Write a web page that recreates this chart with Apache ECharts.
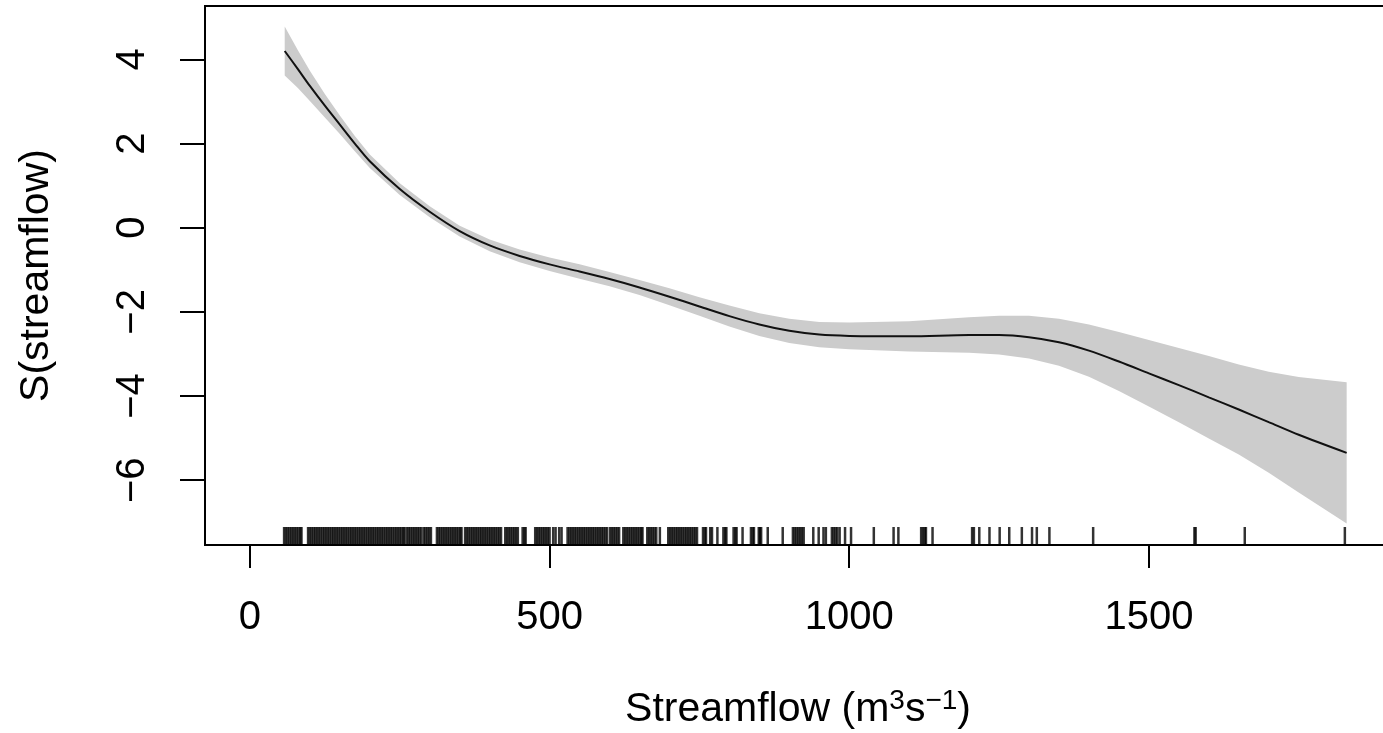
<!DOCTYPE html>
<html>
<head>
<meta charset="utf-8">
<title>S(streamflow)</title>
<script src="https://cdn.jsdelivr.net/npm/echarts@6/dist/echarts.min.js"></script>
<style>
  html, body { margin: 0; padding: 0; background: #fff; }
  #chart { width: 1383px; height: 733px; }
</style>
</head>
<body>
<div id="chart"></div>
<script>
// smooth term: streamflow, fitted value and half width of the band
const flow = [58, 80, 100, 125, 150, 175, 200, 250, 300, 350, 400, 450, 500, 550, 600, 650, 700, 750, 800, 850,
  900, 950, 1000, 1100, 1200, 1250, 1300, 1350, 1400, 1450, 1500, 1550, 1600, 1650, 1700, 1750, 1830];
const fit = [4.2, 3.77, 3.37, 2.9, 2.45, 2.0, 1.58, 0.92, 0.38, -0.08, -0.42, -0.67, -0.87, -1.04, -1.22, -1.42,
  -1.64, -1.87, -2.1, -2.3, -2.45, -2.54, -2.57, -2.58, -2.55, -2.55, -2.6, -2.72, -2.92, -3.18, -3.46, -3.74,
  -4.03, -4.32, -4.62, -4.92, -5.35];
const halfWidth = [0.58, 0.45, 0.36, 0.28, 0.22, 0.18, 0.16, 0.14, 0.13, 0.13, 0.14, 0.15, 0.16, 0.17, 0.17, 0.18,
  0.2, 0.22, 0.25, 0.27, 0.29, 0.3, 0.32, 0.36, 0.42, 0.46, 0.51, 0.56, 0.62, 0.7, 0.79, 0.88, 0.98, 1.07, 1.2,
  1.37, 1.68];

// rug of observed streamflow
const rug = [57, 60, 63, 66, 69, 72, 75, 78, 81, 84, 86,
  97, 100, 103, 106, 109, 112, 115, 118, 121, 124, 127, 130, 133, 136, 139, 142, 145, 148, 151, 154, 157, 160,
  163, 166, 169, 172, 175, 178, 181, 184, 187, 190, 193, 196, 199, 202, 205, 208, 211, 214, 217, 220, 223, 226,
  229, 232, 235, 238, 241, 244, 247, 250, 253, 256, 258,
  262, 265, 268, 271, 274, 277, 280, 283, 286,
  290, 293, 296, 299, 302,
  312, 315, 318, 321, 324, 327, 330, 333, 336, 339, 342, 345, 348, 351, 353,
  359, 362, 365, 368, 371, 374, 377, 380, 383, 386, 389, 392, 395, 398, 401, 404, 407, 410, 413, 416, 419,
  426, 429, 432, 435, 438, 441, 444, 447,
  455, 458, 460,
  476, 479, 482, 485, 488, 491, 494, 497, 500,
  506, 510, 516, 520,
  530, 533, 536, 539, 542, 545, 548, 551, 554, 557, 560, 563, 566, 569, 572, 575, 578, 581, 584, 587, 590, 593, 596,
  601, 604, 607, 610, 613, 616,
  623, 626, 629, 632, 635, 638, 641, 644, 647, 650, 653, 655,
  663, 666, 669, 672, 675, 678, 684,
  698, 701, 704, 707, 710, 713, 716, 719, 722, 725, 728, 731, 734, 737, 740, 743, 746,
  756, 759, 761, 768, 771, 780, 790, 793, 795, 807, 810, 812, 822, 836, 839, 841, 849, 851, 853, 864, 889,
  906, 909, 912, 915, 918, 921, 924,
  940, 949, 957, 961, 971, 974, 977, 980, 984, 993, 1003, 1041, 1074, 1082,
  1120, 1123, 1126, 1128, 1139, 1205, 1208, 1217, 1234, 1251, 1267, 1288, 1305, 1313, 1334,
  1407, 1576, 1578, 1660, 1827];

const xTicks = [0, 500, 1000, 1500];
const yTicks = [-6, -4, -2, 0, 2, 4];

const xMin = -75, xMax = 1904;
const yMin = -7.54, yMax = 5.27;
const font = '"Liberation Sans", Arial, Helvetica, sans-serif';

const line = flow.map((x, i) => [x, fit[i]]);

const chart = echarts.init(document.getElementById('chart'));

const tickLabel = v => String(v).replace('-', '\u2212');

// confidence band as one polygon, upper edge then lower edge backwards
function renderBand(params, api) {
  const upper = flow.map((x, i) => api.coord([x, fit[i] + halfWidth[i]]));
  const lower = flow.map((x, i) => api.coord([x, fit[i] - halfWidth[i]])).reverse();
  return {
    type: 'polygon',
    shape: { points: upper.concat(lower) },
    style: { fill: '#cccccc' }
  };
}

const option = {
  animation: false,
  backgroundColor: '#fff',
  grid: {
    left: 205, top: 6, right: -8, bottom: 188,
    show: true, borderColor: '#000', borderWidth: 2,
    outerBoundsMode: 'none'
  },
  xAxis: {
    type: 'value', min: xMin, max: xMax,
    axisLine: { show: false, onZero: false },
    splitLine: { show: false },
    axisTick: { customValues: xTicks, length: 23, lineStyle: { color: '#000', width: 2 } },
    axisLabel: {
      customValues: xTicks, margin: 53, color: '#000',
      fontFamily: font, fontSize: 40, formatter: tickLabel
    },
    name: '{t|Streamflow (m}{s|3}{t|s}{s|\u22121}{t|)}',
    nameLocation: 'middle', nameGap: 142,
    nameTextStyle: {
      rich: {
        t: { fontFamily: font, fontSize: 41, color: '#000', lineHeight: 46 },
        s: { fontFamily: font, fontSize: 28, color: '#000', verticalAlign: 'top', lineHeight: 28 }
      }
    }
  },
  yAxis: {
    type: 'value', min: yMin, max: yMax,
    axisLine: { show: false, onZero: false },
    splitLine: { show: false },
    axisTick: { customValues: yTicks, length: 25, lineStyle: { color: '#000', width: 2 } },
    axisLabel: {
      customValues: yTicks, rotate: 90, margin: 52, color: '#000',
      fontFamily: font, fontSize: 40, formatter: tickLabel
    },
    name: 'S(streamflow)',
    nameLocation: 'middle', nameRotate: 90, nameGap: 148,
    nameTextStyle: { fontFamily: font, fontSize: 41, color: '#000' }
  },
  series: [
    {
      type: 'custom', data: [0], renderItem: renderBand, clip: true, silent: true, z: 2
    },
    {
      type: 'line', data: line, smooth: 0.3, showSymbol: false,
      lineStyle: { color: '#111', width: 2 }, z: 5
    },
    {
      type: 'scatter', data: rug.map(v => [v, yMin]),
      symbol: 'rect', symbolSize: [2.5, 18], symbolOffset: [0, -9],
      itemStyle: { color: '#000' }, clip: false, z: 6
    }
  ]
};

chart.setOption(option);
</script>
</body>
</html>
